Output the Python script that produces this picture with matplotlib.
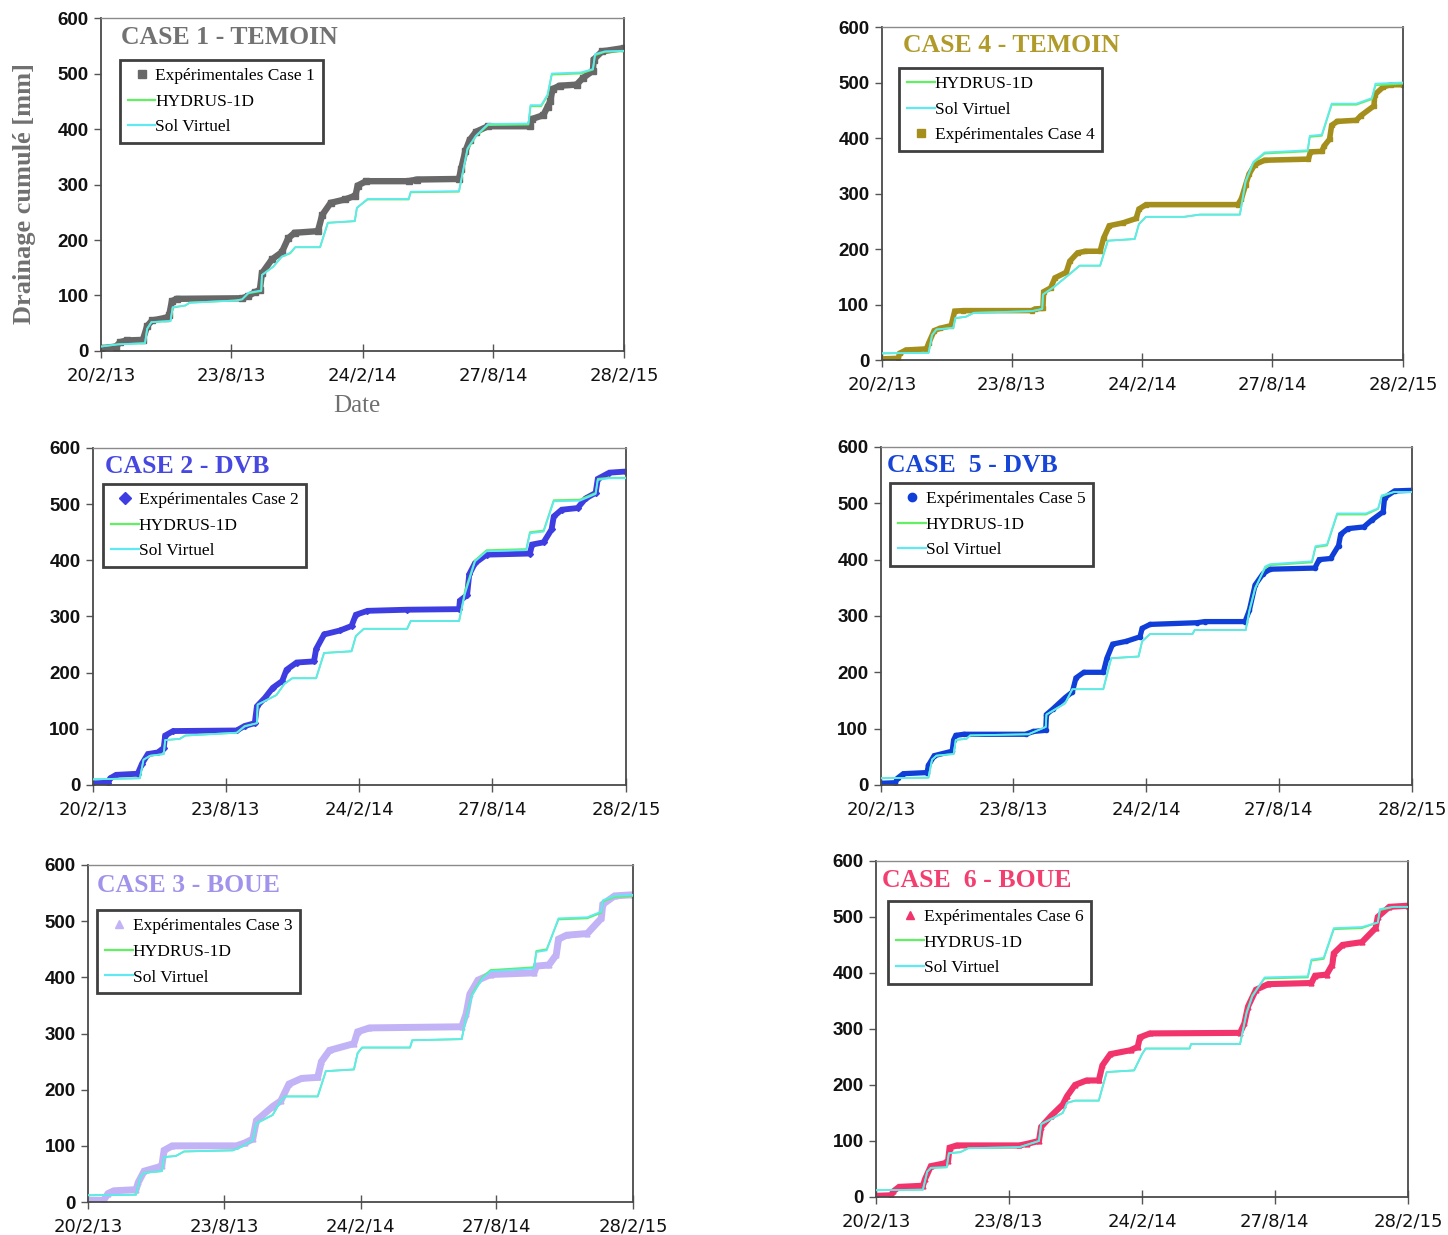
import numpy as np
import matplotlib
matplotlib.use("Agg")
import matplotlib.pyplot as plt
from matplotlib.lines import Line2D

# ---------------- data (days since 20/2/13, cumulative drainage in mm) ----------------
tick_days = [0, 184, 369, 553, 738]
tick_labels = ["20/2/13", "23/8/13", "24/2/14", "27/8/14", "28/2/15"]
y_ticks = [0, 100, 200, 300, 400, 500, 600]

# CASE 1 - TEMOIN
exp1_days = [0, 21, 27, 36, 59, 65, 72, 92, 96, 100, 107, 199, 208, 217, 224, 227, 241, 255, 264, 273,
             306, 312, 324, 344, 359, 362, 374, 434, 446, 505, 508, 514, 520, 529, 546, 605, 608, 624,
             630, 634, 637, 647, 671, 680, 694, 695, 707, 738]
exp1_mm = [5, 8, 16, 19, 20, 45, 55, 60, 64, 90, 94, 95, 99, 106, 110, 140, 165, 178, 203, 213,
           216, 245, 267, 273, 280, 298, 306, 306, 309, 310, 328, 360, 380, 395, 405, 405, 418, 425,
           440, 450, 472, 478, 480, 492, 505, 525, 540, 546]
sim1_days = [0, 24, 62, 65, 71, 98, 101, 119, 125, 190, 199, 208, 226, 227, 243, 255, 267, 274, 309, 320,
             358, 361, 376, 434, 437, 505, 517, 529, 546, 603, 606, 621, 630, 636, 677, 694, 697, 711, 738]
hyd1_mm = [8, 12, 14, 40, 52, 54, 78, 82, 87, 91, 93, 104, 108, 137, 152, 170, 176, 187, 187, 231,
           234, 258, 273, 273, 286, 287, 363, 387, 407, 408, 441, 441, 460, 498, 500, 507, 533, 539, 540]
sol1_mm = [8, 12, 14, 40, 52, 54, 79, 82, 87, 91, 93, 105, 109, 137, 152, 170, 177, 187, 187, 231,
           234, 258, 274, 274, 287, 288, 365, 388, 409, 410, 443, 443, 462, 500, 502, 508, 535, 540, 541]

# CASE 4 - TEMOIN
exp4_days = [0, 23, 25, 34, 63, 66, 74, 82, 98, 103, 115, 212, 217, 228, 229, 239, 245, 261, 266, 277,
             288, 309, 314, 322, 341, 360, 364, 374, 504, 509, 515, 520, 528, 542, 604, 607, 623, 626,
             634, 637, 645, 672, 678, 697, 698, 710, 721, 738]
exp4_mm = [2, 3, 12, 18, 20, 30, 53, 57, 62, 88, 89, 89, 92, 93, 123, 130, 148, 158, 178, 193,
           196, 196, 220, 242, 247, 255, 272, 280, 280, 290, 315, 335, 352, 360, 362, 375, 376, 385,
           398, 423, 430, 432, 440, 458, 478, 492, 496, 496]
sim4_days = [0, 66, 71, 77, 101, 104, 119, 130, 212, 227, 228, 245, 266, 280, 309, 320, 358, 364, 374,
             428, 450, 507, 515, 526, 542, 603, 606, 623, 637, 672, 694, 699, 738]
hyd4_mm = [12, 13, 45, 55, 58, 75, 78, 85, 88, 92, 118, 133, 155, 170, 170, 215, 218, 245, 258,
           258, 262, 262, 320, 355, 372, 376, 402, 404, 460, 460, 470, 495, 498]
sol4_mm = [12, 13, 45, 55, 58, 76, 78, 85, 88, 92, 118, 133, 155, 170, 170, 215, 218, 245, 258,
           258, 262, 262, 322, 357, 374, 378, 404, 406, 462, 462, 472, 498, 500]

# CASE 2 - DVB
exp2_days = [0, 21, 24, 32, 62, 68, 76, 90, 98, 100, 111, 199, 210, 224, 227, 238, 249, 262, 268, 282,
             306, 309, 320, 342, 358, 364, 380, 435, 507, 508, 518, 521, 529, 545, 605, 608, 624, 635,
             638, 649, 671, 682, 696, 699, 715, 738]
exp2_mm = [3, 4, 12, 18, 20, 38, 55, 58, 66, 88, 96, 97, 105, 110, 140, 155, 173, 185, 205, 218,
           220, 242, 268, 275, 283, 303, 310, 312, 313, 328, 338, 375, 395, 410, 412, 428, 432, 455,
           478, 490, 493, 510, 520, 545, 556, 558]
sim2_days = [0, 65, 70, 79, 98, 100, 120, 128, 199, 210, 227, 228, 254, 265, 276, 309, 320, 358, 364, 375,
             435, 440, 507, 515, 529, 545, 600, 605, 624, 638, 674, 696, 699, 715, 738]
hyd2_mm = [10, 12, 45, 52, 55, 80, 82, 88, 93, 105, 110, 143, 160, 180, 190, 190, 235, 238, 265, 278,
           278, 292, 292, 345, 400, 418, 420, 450, 453, 507, 508, 520, 545, 547, 547]
sol2_mm = [10, 12, 45, 52, 55, 80, 82, 88, 93, 104, 110, 143, 160, 180, 190, 190, 235, 238, 265, 278,
           278, 292, 292, 340, 398, 416, 418, 448, 451, 505, 506, 518, 543, 546, 546]

# CASE 5 - DVB
exp5_days = [0, 20, 23, 31, 64, 66, 74, 99, 101, 104, 115, 201, 212, 229, 230, 239, 256, 266, 271, 282,
             309, 314, 322, 341, 360, 363, 374, 439, 450, 506, 512, 520, 531, 541, 603, 609, 625, 636,
             639, 649, 671, 682, 698, 700, 714, 738]
exp5_mm = [3, 4, 12, 20, 22, 35, 52, 60, 80, 88, 90, 90, 95, 97, 125, 135, 155, 165, 190, 200,
           200, 225, 250, 255, 263, 278, 285, 288, 290, 290, 310, 355, 375, 383, 385, 400, 402, 425,
           445, 455, 458, 470, 485, 510, 522, 523]
sim5_days = [0, 66, 71, 77, 101, 104, 119, 124, 205, 229, 230, 256, 266, 309, 320, 358, 363, 374, 433,
             436, 507, 512, 520, 534, 541, 599, 604, 620, 634, 674, 691, 696, 713, 738]
hyd5_mm = [12, 13, 45, 52, 55, 80, 82, 88, 90, 103, 125, 145, 170, 170, 225, 228, 255, 268, 268,
           275, 275, 310, 350, 385, 390, 395, 422, 425, 480, 480, 490, 512, 520, 520]
sol5_mm = [12, 13, 45, 52, 55, 80, 82, 88, 90, 103, 125, 145, 170, 170, 225, 228, 255, 268, 268,
           275, 275, 308, 348, 388, 392, 397, 424, 427, 482, 482, 491, 514, 520, 520]

# CASE 3 - BOUE
exp3_days = [0, 21, 27, 35, 65, 68, 76, 95, 100, 103, 114, 201, 212, 223, 228, 250, 261, 272, 289, 311,
             316, 327, 360, 365, 381, 506, 512, 517, 528, 545, 604, 607, 624, 634, 637, 648, 676, 695,
             697, 713, 738]
exp3_mm = [3, 3, 15, 20, 22, 35, 55, 62, 65, 92, 100, 100, 105, 112, 145, 170, 180, 210, 220, 222,
           250, 270, 282, 303, 310, 312, 335, 370, 395, 405, 408, 420, 422, 440, 468, 475, 478, 505,
           530, 545, 547]
sim3_days = [0, 65, 71, 76, 100, 103, 119, 130, 196, 207, 223, 228, 250, 261, 267, 311, 322, 360, 365,
             371, 436, 439, 506, 512, 520, 534, 545, 604, 607, 621, 637, 676, 695, 697, 713, 738]
hyd3_mm = [12, 13, 45, 52, 55, 80, 82, 90, 92, 98, 110, 140, 155, 180, 188, 188, 233, 236, 265,
           275, 275, 288, 290, 330, 370, 400, 413, 418, 447, 450, 503, 505, 515, 535, 543, 545]
sol3_mm = [12, 13, 45, 52, 55, 80, 82, 90, 92, 98, 110, 140, 155, 180, 188, 188, 233, 236, 265,
           275, 275, 288, 290, 328, 368, 398, 411, 416, 445, 448, 505, 507, 517, 537, 545, 547]

# CASE 6 - BOUE
exp6_days = [0, 21, 24, 32, 65, 68, 76, 95, 100, 102, 112, 199, 210, 226, 229, 243, 259, 265, 276, 292,
             309, 314, 325, 353, 363, 366, 380, 505, 511, 516, 527, 544, 604, 609, 625, 633, 635, 647,
             674, 693, 696, 712, 738]
exp6_mm = [2, 3, 10, 18, 20, 32, 55, 60, 65, 88, 92, 92, 95, 100, 125, 145, 165, 180, 200, 208,
           208, 235, 255, 262, 268, 285, 292, 293, 310, 340, 370, 380, 382, 395, 397, 415, 435, 450,
           455, 480, 500, 518, 520]
sim6_days = [0, 65, 71, 76, 98, 101, 117, 128, 199, 226, 229, 259, 265, 276, 309, 320, 358, 369, 374,
             435, 437, 505, 514, 522, 539, 599, 604, 621, 635, 674, 696, 699, 718, 738]
hyd6_mm = [12, 13, 45, 52, 53, 78, 80, 87, 89, 100, 130, 150, 168, 172, 172, 223, 226, 255, 265,
           265, 273, 273, 330, 360, 390, 392, 422, 425, 478, 480, 490, 512, 518, 518]
sol6_mm = [12, 13, 45, 52, 53, 78, 80, 87, 89, 100, 130, 150, 168, 172, 172, 223, 226, 255, 265,
           265, 273, 273, 328, 358, 392, 394, 424, 427, 480, 482, 490, 514, 518, 518]

# ---------------- styling ----------------
C_HYD = "#62ef62"
C_SOL = "#5fe9f2"

panels = [
    dict(title="CASE 1 - TEMOIN", tcol="#727272", ecol="#686868", mk="s", ms=4, elw=4.6,
         rect=[0.0698, 0.7158, 0.3612, 0.2696], txy=(0.038, 0.943), leg=(0.036, 0.874),
         order="ehs", lab="Expérimentales Case 1",
         exp=(exp1_days, exp1_mm), sim=(sim1_days, hyd1_mm, sol1_mm)),
    dict(title="CASE 4 - TEMOIN", tcol="#b09b2a", ecol="#a58f1c", mk="s", ms=3.5, elw=4.0,
         rect=[0.6091, 0.7085, 0.3598, 0.2696], txy=(0.040, 0.946), leg=(0.033, 0.877),
         order="hse", lab="Expérimentales Case 4",
         exp=(exp4_days, exp4_mm), sim=(sim4_days, hyd4_mm, sol4_mm)),
    dict(title="CASE 2 - DVB", tcol="#4747e2", ecol="#3d3de2", mk="D", ms=3, elw=4.2,
         rect=[0.0642, 0.3644, 0.3681, 0.2729], txy=(0.0225, 0.944), leg=(0.019, 0.893),
         order="ehs", lab="Expérimentales Case 2",
         exp=(exp2_days, exp2_mm), sim=(sim2_days, hyd2_mm, sol2_mm)),
    dict(title="CASE  5 - DVB", tcol="#1745d8", ecol="#0f3fd8", mk="o", ms=3, elw=3.8,
         rect=[0.6084, 0.3644, 0.3667, 0.2737], txy=(0.011, 0.944), leg=(0.017, 0.893),
         order="ehs", lab="Expérimentales Case 5",
         exp=(exp5_days, exp5_mm), sim=(sim5_days, hyd5_mm, sol5_mm)),
    dict(title="CASE 3 - BOUE", tcol="#a193ec", ecol="#c2b3f6", mk="^", ms=3.5, elw=5.0,
         rect=[0.0608, 0.0267, 0.3764, 0.2729], txy=(0.0165, 0.938), leg=(0.0165, 0.866),
         order="ehs", lab="Expérimentales Case 3",
         exp=(exp3_days, exp3_mm), sim=(sim3_days, hyd3_mm, sol3_mm)),
    dict(title="CASE  6 - BOUE", tcol="#f23f70", ecol="#f2346c", mk="^", ms=3.5, elw=4.4,
         rect=[0.6050, 0.0308, 0.3674, 0.2721], txy=(0.011, 0.943), leg=(0.0226, 0.881),
         order="ehs", lab="Expérimentales Case 6",
         exp=(exp6_days, exp6_mm), sim=(sim6_days, hyd6_mm, sol6_mm)),
]

fig = plt.figure(figsize=(14.48, 12.35), dpi=100)

for p in panels:
    ax = fig.add_axes(p["rect"])
    ed, em = p["exp"]
    sd, hm, sm = p["sim"]
    ax.plot(ed, em, color=p["ecol"], lw=p["elw"], marker=p["mk"], ms=p["ms"],
            mec=p["ecol"], mfc=p["ecol"], solid_joinstyle="miter", zorder=2)
    ax.plot(sd, hm, color=C_HYD, lw=1.3, zorder=3)
    ax.plot(sd, sm, color=C_SOL, lw=1.3, zorder=4)

    ax.set_xlim(0, 738)
    ax.set_ylim(0, 600)
    ax.set_xticks(tick_days)
    ax.set_xticklabels(tick_labels, fontsize=13, family="DejaVu Sans", color="#111111")
    ax.set_yticks(y_ticks)
    ax.set_yticklabels([str(v) for v in y_ticks], fontsize=13.5,
                       family="Liberation Sans", fontweight="bold", color="#111111")
    ax.tick_params(axis="x", direction="inout", length=10, width=1, color="#555555", pad=6)
    ax.tick_params(axis="y", direction="out", length=5, width=1, color="#555555", pad=4)
    for side in ["left", "bottom", "right"]:
        ax.spines[side].set_color("#4a4a4a")
        ax.spines[side].set_linewidth(1.3)
    ax.spines["top"].set_color("#8a8a8a")
    ax.spines["top"].set_linewidth(1.0)

    ax.text(p["txy"][0], p["txy"][1], p["title"], transform=ax.transAxes,
            fontsize=18.5, fontweight="bold", family="Liberation Serif",
            color=p["tcol"], ha="left", va="center")

    h_exp = Line2D([], [], color=p["ecol"], marker=p["mk"], ls="none", ms=6)
    h_hyd = Line2D([], [], color=C_HYD, lw=1.6)
    h_sol = Line2D([], [], color=C_SOL, lw=1.6)
    hmap = {"e": (h_exp, p["lab"]), "h": (h_hyd, "HYDRUS-1D"), "s": (h_sol, "Sol Virtuel")}
    handles = [hmap[c][0] for c in p["order"]]
    labels = [hmap[c][1] for c in p["order"]]
    leg = ax.legend(handles, labels, loc="upper left", bbox_to_anchor=p["leg"],
                    borderaxespad=0, frameon=True, fancybox=False, framealpha=1,
                    edgecolor="#404040", prop={"family": "Liberation Serif", "size": 12.5},
                    handlelength=1.6, handletextpad=0.0, labelspacing=0.55,
                    borderpad=0.45)
    leg.get_frame().set_linewidth(2.0)

fig.text(25 / 1448, 1 - 193 / 1235, "Drainage cumulé [mm]", rotation=90,
         ha="center", va="center", fontsize=19, fontweight="bold",
         family="Liberation Serif", color="#707070")
fig.text(357 / 1448, 1 - 406 / 1235, "Date", ha="center", va="center",
         fontsize=18, family="Liberation Serif", color="#707070")

fig.savefig("out.png", dpi=100)
